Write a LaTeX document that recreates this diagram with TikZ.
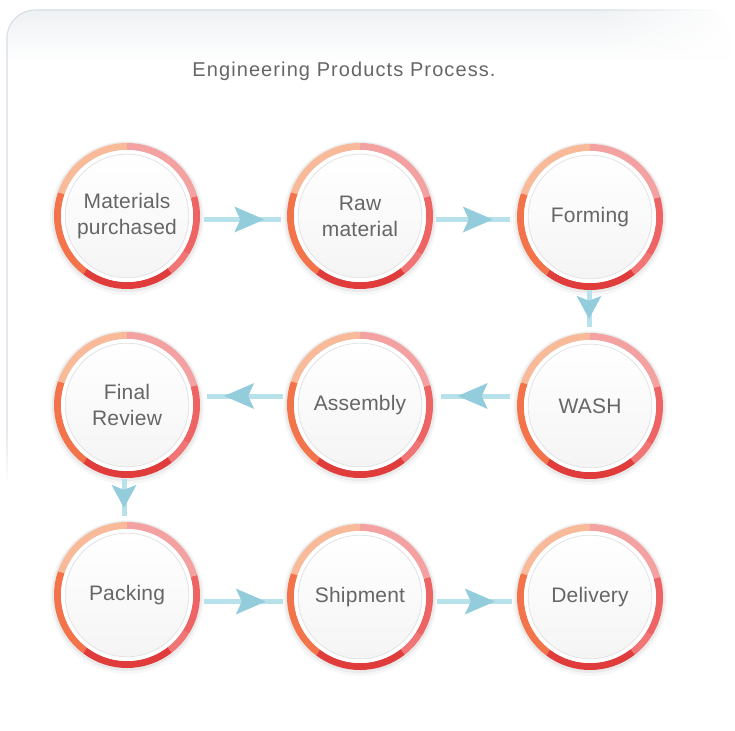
\documentclass[tikz,border=0pt]{standalone}
\usepackage{fontspec}
\setmainfont{Liberation Sans}
\usetikzlibrary{decorations.markings,fadings,calc}

\definecolor{cPeach}{HTML}{F8BA98}
\definecolor{cOrange}{HTML}{F3744A}
\definecolor{cRed}{HTML}{E03C3C}
\definecolor{cSalmon}{HTML}{EE6464}
\definecolor{cSalmonL}{HTML}{F17575}
\definecolor{cPink}{HTML}{F4A1A1}
\definecolor{txtc}{HTML}{666666}
\definecolor{shaftc}{HTML}{B8E2EB}
\definecolor{headc}{HTML}{93CDDC}
\definecolor{bordc}{HTML}{D5DEE5}
\definecolor{bandc}{HTML}{EEF1F3}

\pgfdeclarelayer{back}
\pgfdeclarelayer{bg}
\pgfsetlayers{back,bg,main}

\newcommand\stepring[1]{%
  \begin{scope}[shift={(#1.center)}]
    \fill[black,opacity=0.03] (0,-2pt) circle (77pt);
    \fill[black,opacity=0.05] (0,-1pt) circle (75pt);
    \draw[line width=7pt,cPeach]   (90:69.5pt)  arc[start angle=90, end angle=161,radius=69.5pt];
    \draw[line width=7pt,cOrange]  (161:69.5pt) arc[start angle=161,end angle=233,radius=69.5pt];
    \draw[line width=7pt,cRed]     (233:69.5pt) arc[start angle=233,end angle=308,radius=69.5pt];
    \draw[line width=7pt,cSalmonL] (308:69.5pt) arc[start angle=308,end angle=328,radius=69.5pt];
    \draw[line width=7pt,cSalmon]  (328:69.5pt) arc[start angle=328,end angle=376,radius=69.5pt];
    \draw[line width=7pt,cPink]    (16:69.5pt)  arc[start angle=16, end angle=90, radius=69.5pt];
    \fill[white] (0,0) circle (66pt);
    \shade[top color=white,bottom color=black!4] (0,0) circle (61.8pt);
    \draw[black!11,line width=0.8pt] (0,0) circle (61.8pt);
  \end{scope}}

\tikzset{
  stepnode/.style={circle,minimum size=147pt,inner sep=0pt,align=center,
    text=txtc,font=\fontsize{21}{26}\selectfont\addfontfeatures{LetterSpace=1}},
  titletext/.style={text=txtc,inner sep=0pt,
    font=\fontsize{20}{22}\selectfont\addfontfeatures{LetterSpace=5.5}},
  hflow/.style={draw=shaftc,line width=5pt,postaction={decorate},
    decoration={markings,mark=at position -17pt with {
      \fill[headc] (0,0) -- (-30pt,13pt) .. controls (-27pt,6pt) .. (-24pt,0pt)
        .. controls (-27pt,-6pt) .. (-30pt,-13pt) -- cycle;}}},
  vflow/.style={draw=shaftc,line width=5pt,postaction={decorate},
    decoration={markings,mark=at position -8pt with {
      \fill[headc] (0,0) -- (-23pt,12.5pt) .. controls (-21pt,6pt) .. (-18pt,0pt)
        .. controls (-21pt,-6pt) .. (-23pt,-12.5pt) -- cycle;}}}
}

\begin{document}
\begin{tikzpicture}[x=1pt,y=1pt]
\useasboundingbox (0,0) rectangle (735,-730);

% panel background
\begin{pgfonlayer}{back}
  \fill[white] (0,0) rectangle (735,-730);
  \begin{scope}
    \clip[rounded corners=28pt] (7,-480) -- (7,-10) -- (730,-10) -- (730,-480) -- cycle;
    \shade[top color=bandc,bottom color=white] (7,-10) rectangle (730,-62);
  \end{scope}
  \draw[bordc,line width=1.1pt] (7,-482) -- (7,-38) arc[start angle=180,end angle=90,radius=28pt] -- (712,-10);
  \fill[white,path fading=west] (590,-4) rectangle (735,-70);
  \fill[white,path fading=north] (3,-430) rectangle (12,-485);
\end{pgfonlayer}

\node[titletext] (title) at (344,-71) {Engineering Products Process.};

\node[stepnode] (n1) at (127,-216) {Materials\\purchased};
\node[stepnode] (n2) at (360,-216) {Raw\\material};
\node[stepnode] (n3) at (590,-217) {Forming};
\node[stepnode] (n4) at (127,-405) {Final\\Review};
\node[stepnode] (n5) at (360,-405) {Assembly};
\node[stepnode] (n6) at (590,-406) {WASH};
\node[stepnode] (n7) at (127,-595) {Packing};
\node[stepnode] (n8) at (360,-597) {Shipment};
\node[stepnode] (n9) at (590,-597) {Delivery};

\begin{pgfonlayer}{bg}
  \foreach \n in {n1,n2,n3,n4,n5,n6,n7,n8,n9} {\stepring{\n}}
\end{pgfonlayer}

% connectors
\draw[hflow] ($(n1.east)+(3,-3.5)$) -- ($(n2.west)+(-5,-3.5)$);
\draw[hflow] ($(n2.east)+(2.5,-3.5)$) -- ($(n3.west)+(-6.5,-2.5)$);
\draw[vflow] ($(n3.south)+(-1,0.5)$) -- ($(n6.north)+(-1,5.5)$);
\draw[hflow] ($(n6.west)+(-6.5,10)$) -- ($(n5.east)+(7,9)$);
\draw[hflow] ($(n5.west)+(-3.5,9)$) -- ($(n4.east)+(6.5,9)$);
\draw[vflow] ($(n4.south)+(-3,-0.5)$) -- ($(n7.north)+(-3,5.5)$);
\draw[hflow] ($(n7.east)+(3,-6.5)$) -- ($(n8.west)+(-3.5,-4.5)$);
\draw[hflow] ($(n8.east)+(3.5,-4.5)$) -- ($(n9.west)+(-4.5,-4.5)$);
\end{tikzpicture}
\end{document}
